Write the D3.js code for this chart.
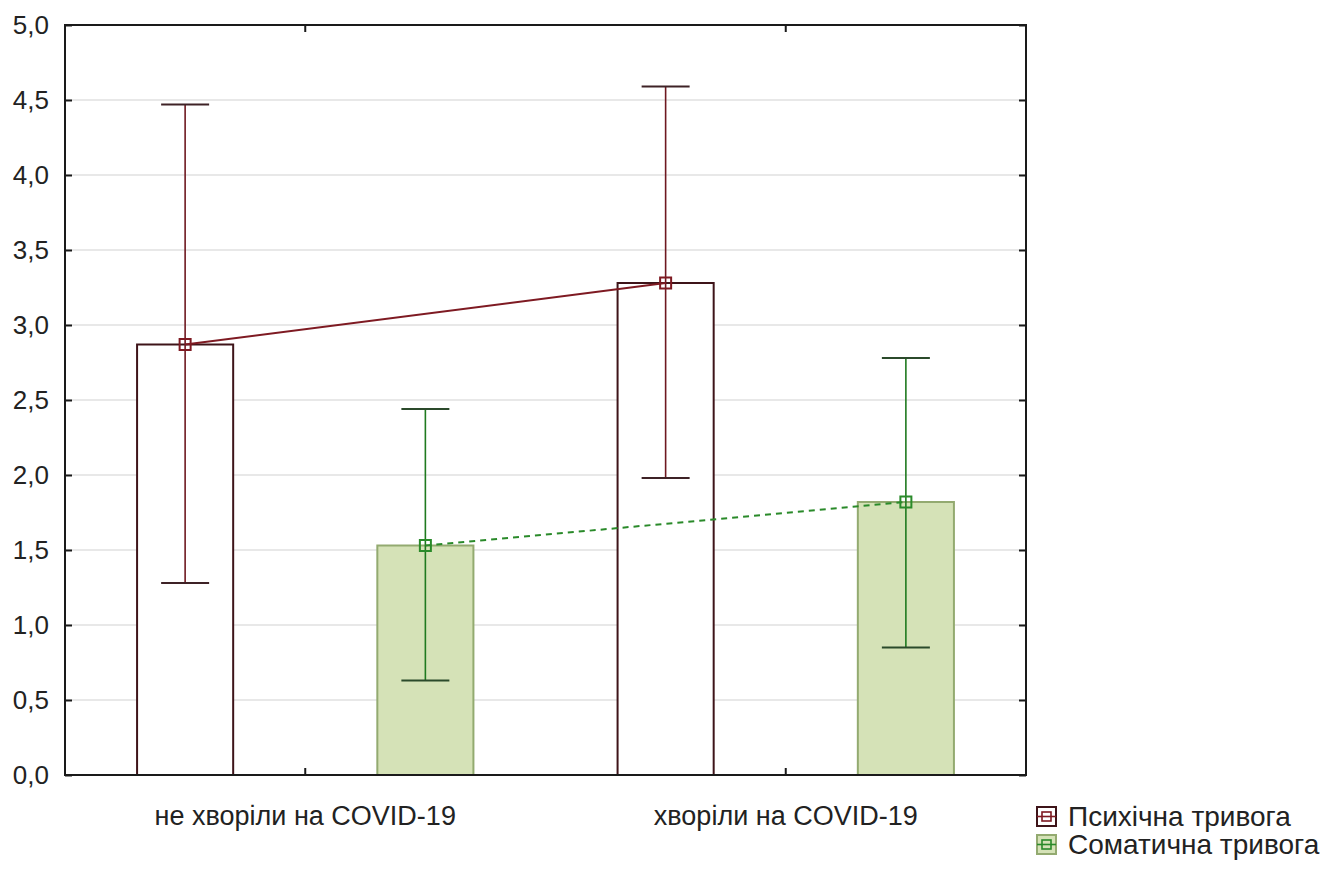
<!DOCTYPE html>
<html>
<head>
<meta charset="utf-8">
<script src="https://cdn.jsdelivr.net/npm/d3@7"></script>
<style>
  html, body { margin: 0; padding: 0; background: #fff; }
  svg { display: block; font-family: "Liberation Sans", Arial, sans-serif; }
</style>
</head>
<body>
<svg id="chart" width="1335" height="869"></svg>
<script>
// Group labels along the x axis
const categories = ["не хворіли на COVID-19", "хворіли на COVID-19"];
// Series names (legend order)
const seriesNames = ["Психічна тривога", "Соматична тривога"];
// Means and interval bounds per group
const psychMean = [2.87, 3.28];
const psychLow  = [1.28, 1.98];
const psychHigh = [4.47, 4.59];
const somaMean  = [1.53, 1.82];
const somaLow   = [0.63, 0.85];
const somaHigh  = [2.44, 2.78];
// Y axis ticks
const yTicks = [0, 0.5, 1, 1.5, 2, 2.5, 3, 3.5, 4, 4.5, 5];

const series = [
  { name: seriesNames[0], mean: psychMean, low: psychLow, high: psychHigh,
    fill: "#ffffff", stroke: "#3e1419", err: "#6e1820", cap: "#3e2226", line: "#7e1a22", dash: null },
  { name: seriesNames[1], mean: somaMean, low: somaLow, high: somaHigh,
    fill: "#d5e2b7", stroke: "#93aa70", err: "#1f7a1f", cap: "#2b4a2b", line: "#2a8a2a", dash: "6,5" }
];

const svg = d3.select("#chart");
const m = { left: 65, right: 1026, top: 25, bottom: 775 };

const x = d3.scaleBand().domain(categories).range([m.left, m.right]).padding(0);
const xs = d3.scaleBand().domain(seriesNames).range([0, x.bandwidth()])
  .paddingInner(0.6).paddingOuter(0.3);
const y = d3.scaleLinear().domain([0, 5]).range([m.bottom, m.top]);
const fmt = v => d3.format(".1f")(v).replace(".", ",");

// grid
svg.append("g").selectAll("line")
  .data(yTicks.filter(t => t > 0 && t < 5))
  .join("line")
  .attr("x1", m.left).attr("x2", m.right)
  .attr("y1", d => y(d)).attr("y2", d => y(d))
  .attr("stroke", "#d2d2d2").attr("stroke-width", 1.2);

// bars
series.forEach(s => {
  svg.append("g").selectAll("rect")
    .data(categories.map((c, i) => ({ c, v: s.mean[i] })))
    .join("rect")
    .attr("x", d => x(d.c) + xs(s.name))
    .attr("y", d => y(d.v))
    .attr("width", xs.bandwidth())
    .attr("height", d => y(0) - y(d.v))
    .attr("fill", s.fill)
    .attr("stroke", s.stroke)
    .attr("stroke-width", 2);
});

const cx = (s, i) => x(categories[i]) + xs(s.name) + xs.bandwidth() / 2;
const capW = 24;

// error bars, connecting lines, markers
series.forEach(s => {
  const g = svg.append("g");
  categories.forEach((c, i) => {
    const px = cx(s, i);
    g.append("line").attr("x1", px).attr("x2", px)
      .attr("y1", y(s.low[i])).attr("y2", y(s.high[i]))
      .attr("stroke", s.err).attr("stroke-width", 1.6);
    [s.low[i], s.high[i]].forEach(v => {
      g.append("line").attr("x1", px - capW).attr("x2", px + capW)
        .attr("y1", y(v)).attr("y2", y(v))
        .attr("stroke", s.cap).attr("stroke-width", 2);
    });
  });
  const line = d3.line().x((d, i) => cx(s, i)).y(d => y(d));
  g.append("path").datum(s.mean).attr("d", line)
    .attr("fill", "none").attr("stroke", s.line).attr("stroke-width", 2)
    .attr("stroke-dasharray", s.dash);
  g.selectAll("rect.mk").data(s.mean).join("rect")
    .attr("class", "mk")
    .attr("x", (d, i) => cx(s, i) - 5.5).attr("y", d => y(d) - 5.5)
    .attr("width", 11).attr("height", 11)
    .attr("fill", "none").attr("stroke", s.line).attr("stroke-width", 2);
});

// frame
svg.append("rect").attr("x", m.left).attr("y", m.top)
  .attr("width", m.right - m.left).attr("height", m.bottom - m.top)
  .attr("fill", "none").attr("stroke", "#1a1a1a").attr("stroke-width", 2);

// y ticks (inward on both sides) and labels
const yAxisL = d3.axisLeft(y).tickValues(yTicks).tickSize(-7).tickFormat(fmt).tickPadding(16);
const gy = svg.append("g").attr("transform", `translate(${m.left},0)`).call(yAxisL);
gy.select(".domain").remove();
gy.selectAll(".tick line").attr("stroke", "#1a1a1a").attr("stroke-width", 2);
gy.selectAll(".tick text").attr("font-size", 26).attr("fill", "#222")
  .attr("font-family", "'Liberation Sans', Arial, sans-serif");

const gyR = svg.append("g").attr("transform", `translate(${m.right},0)`)
  .call(d3.axisRight(y).tickValues(yTicks).tickSize(-7).tickFormat(""));
gyR.select(".domain").remove();
gyR.selectAll(".tick line").attr("stroke", "#1a1a1a").attr("stroke-width", 2);

// x ticks (inward top and bottom) and labels
const xAxisB = d3.axisBottom(x).tickSize(-7).tickPadding(31);
const gx = svg.append("g").attr("transform", `translate(0,${m.bottom})`).call(xAxisB);
gx.select(".domain").remove();
gx.selectAll(".tick line").attr("stroke", "#1a1a1a").attr("stroke-width", 2);
gx.selectAll(".tick text").attr("font-size", 27).attr("fill", "#222")
  .attr("font-family", "'Liberation Sans', Arial, sans-serif");

const gxT = svg.append("g").attr("transform", `translate(0,${m.top})`)
  .call(d3.axisTop(x).tickSize(-7).tickFormat(""));
gxT.select(".domain").remove();
gxT.selectAll(".tick line").attr("stroke", "#1a1a1a").attr("stroke-width", 2);

// legend
const lg = svg.append("g").attr("transform", "translate(1037,807)");
series.forEach((s, i) => {
  const row = lg.append("g").attr("transform", `translate(0,${i * 28})`);
  row.append("rect").attr("x", 0).attr("y", 0).attr("width", 19).attr("height", 19)
    .attr("fill", s.fill).attr("stroke", s.stroke).attr("stroke-width", 2);
  row.append("line").attr("x1", 0).attr("x2", 19).attr("y1", 9.5).attr("y2", 9.5)
    .attr("stroke", s.line).attr("stroke-width", 1.6);
  row.append("rect").attr("x", 5).attr("y", 5).attr("width", 9).attr("height", 9)
    .attr("fill", "none").attr("stroke", s.line).attr("stroke-width", 1.6);
  row.append("text").attr("x", 31).attr("y", 9.5).attr("dy", "0.35em")
    .attr("font-size", 28).attr("fill", "#222").text(s.name);
});
</script>
</body>
</html>
